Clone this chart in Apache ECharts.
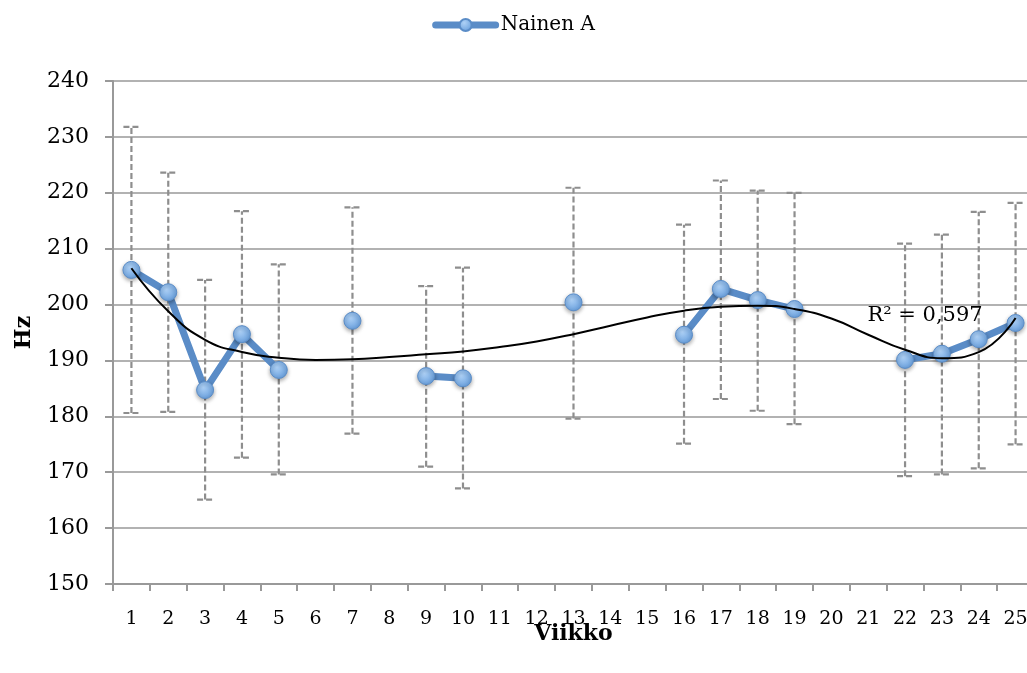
<!DOCTYPE html>
<html>
<head>
<meta charset="utf-8">
<script src="https://cdn.jsdelivr.net/npm/echarts@6/dist/echarts.min.js"></script>
<style>
  html, body { margin: 0; padding: 0; background: #fff; }
  #chart { width: 1027px; height: 673px; }
</style>
</head>
<body>
<div id="chart"></div>
<script>
// viikot 1..25
var weeks = ['1','2','3','4','5','6','7','8','9','10','11','12','13','14','15','16','17','18','19','20','21','22','23','24','25'];
// Nainen A keskiarvo (Hz), null = ei mittausta
var meanHz = [206.2, 202.2, 184.7, 194.7, 188.3, null, 197.1, null, 187.2, 186.8, null, null, 200.4,
              null, null, 194.6, 202.8, 200.8, 199.2, null, null, 190.1, 191.2, 193.8, 196.7];
// virhepalkkien ala- ja yläraja
var errLow = [180.6, 180.8, 165.1, 172.6, 169.6, null, 176.9, null, 171.0, 167.1, null, null, 179.6,
              null, null, 175.1, 183.1, 181.0, 178.6, null, null, 169.3, 169.6, 170.7, 175.0];
var errHigh = [231.8, 223.6, 204.4, 216.7, 207.2, null, 217.4, null, 203.3, 206.6, null, null, 220.9,
               null, null, 214.3, 222.2, 220.4, 220.0, null, null, 210.9, 212.5, 216.6, 218.2];
// trendiviiva luettu kuvasta
var trendHz = [206.5, 198.8, 193.7, 191.5, 190.5, 190.1, 190.2, 190.6, 191.1, 191.6, 192.4, 193.4, 194.7,
               196.2, 197.7, 198.9, 199.6, 199.8, 199.2, 197.5, 194.6, 191.9, 190.4, 191.5, 197.6];
var r2Text = 'R² = 0,597';

var FONT = 'DejaVu Serif';

function get_error_data() {
    // custom-sarjan data: [indeksi, ala, ylä]
    var res = [];
    for (let i = 0; i < weeks.length; i++) {
        if (errLow[i] !== null) res.push([i, errLow[i], errHigh[i]]);
    }
    return res;
}

function render_error(params, api) {
    var x = api.value(0);
    var lo = api.coord([x, api.value(1)]);
    var hi = api.coord([x, api.value(2)]);
    var half = 8;
    var style = {stroke: '#8e8e8e', lineWidth: 2.2, lineDash: [6, 3], fill: null};
    return {
        type: 'group',
        children: [
            {type: 'line', shape: {x1: lo[0], y1: lo[1], x2: hi[0], y2: hi[1]}, style: style},
            {type: 'line', shape: {x1: hi[0] - half, y1: hi[1], x2: hi[0] + half, y2: hi[1]}, style: style},
            {type: 'line', shape: {x1: lo[0] - half, y1: lo[1], x2: lo[0] + half, y2: lo[1]}, style: style}
        ]
    };
}

var chart = echarts.init(document.getElementById('chart'));

var options = {
    animation: false,
    textStyle: {fontFamily: FONT, color: '#000'},
    legend: {
        top: 10,
        left: 'center',
        itemWidth: 60,
        itemHeight: 15,
        itemGap: 4,
        lineStyle: {width: 7, cap: 'round'},
        textStyle: {fontFamily: FONT, fontSize: 20, color: '#000'},
        data: ['Nainen A']
    },
    grid: {left: 113, right: -7, top: 81, bottom: 89, outerBoundsMode: 'none', containLabel: false},
    xAxis: {
        type: 'category',
        data: weeks,
        boundaryGap: true,
        name: 'Viikko',
        nameLocation: 'middle',
        nameGap: 39,
        nameMoveOverlap: false,
        nameTextStyle: {fontFamily: FONT, fontSize: 22, fontWeight: 'bold', color: '#000'},
        axisLine: {lineStyle: {color: '#999', width: 2}},
        axisTick: {show: true, length: 7, lineStyle: {color: '#999', width: 2}},
        axisLabel: {fontFamily: FONT, fontSize: 19, color: '#000', margin: 26, interval: 0},
        splitLine: {show: false}
    },
    yAxis: {
        type: 'value',
        min: 150,
        max: 240,
        interval: 10,
        name: 'Hz',
        nameLocation: 'middle',
        nameRotate: 90,
        nameGap: 78,
        nameMoveOverlap: false,
        nameTextStyle: {fontFamily: FONT, fontSize: 22, fontWeight: 'bold', color: '#000'},
        axisLine: {show: true, lineStyle: {color: '#999', width: 2}},
        axisTick: {show: true, length: 8, lineStyle: {color: '#999', width: 2}},
        axisLabel: {fontFamily: FONT, fontSize: 22, color: '#000', margin: 24},
        splitLine: {show: true, lineStyle: {color: '#999', width: 1.5}}
    },
    series: [
        {
            name: 'errorbars',
            type: 'custom',
            renderItem: render_error,
            data: get_error_data(),
            encode: {x: 0, y: [1, 2]},
            z: 1,
            silent: true
        },
        {
            name: 'Nainen A',
            type: 'line',
            data: meanHz,
            connectNulls: false,
            symbol: 'circle',
            symbolSize: 17,
            z: 2,
            lineStyle: {color: '#5a8cc7', width: 7},
            itemStyle: {
                color: new echarts.graphic.RadialGradient(0.4, 0.35, 0.7, [
                    {offset: 0, color: '#aed1f6'},
                    {offset: 1, color: '#649cdb'}
                ]),
                borderColor: '#5a8cc7',
                borderWidth: 1,
                shadowColor: 'rgba(0,0,0,0.35)',
                shadowBlur: 4,
                shadowOffsetY: 2
            }
        },
        {
            name: 'trendi',
            type: 'line',
            data: trendHz,
            smooth: 0.5,
            symbol: 'none',
            z: 3,
            silent: true,
            lineStyle: {color: '#000', width: 2},
            markPoint: {
                symbol: 'rect',
                symbolSize: 1,
                itemStyle: {color: 'transparent'},
                label: {
                    show: true,
                    formatter: r2Text,
                    fontFamily: FONT,
                    fontSize: 21,
                    color: '#000',
                    position: 'inside',
                    offset: [20, 0]
                },
                data: [{coord: [21, 198]}]
            }
        }
    ]
};

chart.setOption(options);
</script>
</body>
</html>
